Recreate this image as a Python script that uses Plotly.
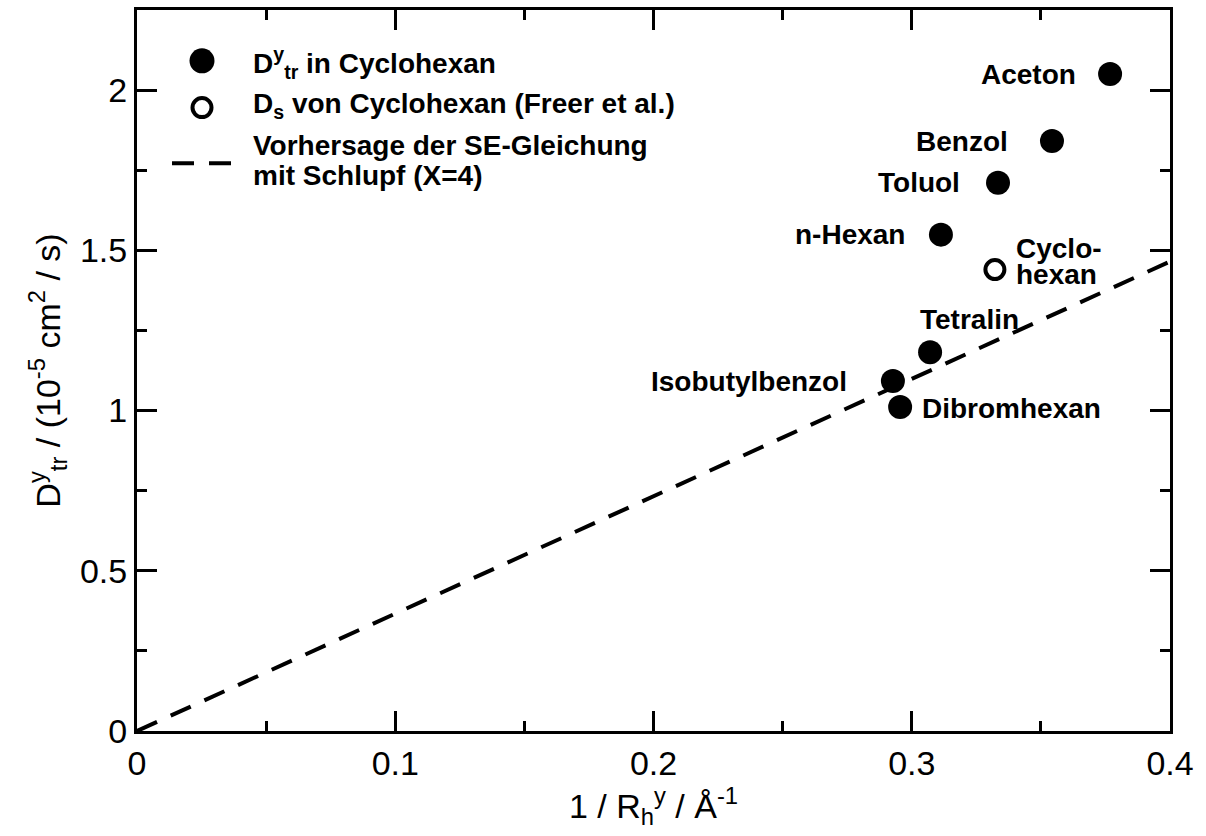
import plotly.graph_objects as go

# Translational diffusion coefficients of probe molecules in cyclohexane
solutes = ["Aceton", "Benzol", "Toluol", "n-Hexan", "Tetralin",
           "Isobutylbenzol", "Dibromhexan"]
inv_rh = [0.3768, 0.3543, 0.3334, 0.3113, 0.3071, 0.2927, 0.2955]
d_tr = [2.05, 1.841, 1.711, 1.549, 1.182, 1.092, 1.011]

# Self-diffusion of cyclohexane (Freer et al.)
self_name_lines = ["Cyclo-", "hexan"]
self_inv_rh = [0.3322]
self_d = [1.440]

# Stokes-Einstein prediction with slip boundary (X=4)
se_x = [0.0, 0.4]
se_y = [0.0, 1.465]

# Label placement (pixel offsets and anchors), in solute order
label_dx = [-32, -42, -36, -34, -12, -44, 20]
label_dy = [0, 0, 0, 0, 33, 0, -1]
label_anchor = ["right", "right", "right", "right", "left", "right", "left"]

FONT = "Liberation Sans, Arial, Helvetica, sans-serif"
W, H = 1206, 836
ML, MR, MT, MB = 137, 36, 7, 105
PW, PH = W - ML - MR, H - MT - MB


def px(xp):
    return (xp - ML) / PW


def py(yp):
    return (H - MB - yp) / PH


fig = go.Figure()

fig.add_trace(go.Scatter(
    x=se_x, y=se_y, mode="lines",
    line=dict(color="black", width=4, dash="22px,15px"),
    hoverinfo="skip", showlegend=False))

fig.add_trace(go.Scatter(
    x=inv_rh, y=d_tr, mode="markers",
    marker=dict(symbol="circle", size=24, color="black"),
    showlegend=False, cliponaxis=False))

fig.add_trace(go.Scatter(
    x=self_inv_rh, y=self_d, mode="markers",
    marker=dict(symbol="circle", size=19, color="white",
                line=dict(color="black", width=4)),
    showlegend=False, cliponaxis=False))

label_font = dict(family=FONT, size=28, color="black")
annotations = []
for name, xv, yv, dx, dy, anc in zip(solutes, inv_rh, d_tr, label_dx,
                                     label_dy, label_anchor):
    annotations.append(dict(
        x=xv, y=yv, xref="x", yref="y", text=f"<b>{name}</b>",
        showarrow=False, xanchor=anc, yanchor="middle",
        xshift=dx, yshift=dy, font=label_font))

# Two-line label of the open symbol, set with tight line spacing
for i, line in enumerate(self_name_lines):
    annotations.append(dict(
        x=self_inv_rh[0], y=self_d[0], xref="x", yref="y",
        text=f"<b>{line}</b>", showarrow=False, xanchor="left",
        yanchor="middle", xshift=19, yshift=21 - 26 * i, font=label_font))

# Legend block
legend_font = dict(family=FONT, size=28, color="black")
legend_rows = [
    (60, "<b>D<sup>y</sup><sub>tr</sub> in Cyclohexan</b>"),
    (103, "<b>D<sub>s</sub> von Cyclohexan (Freer et al.)</b>"),
    (143, "<b>Vorhersage der SE-Gleichung</b>"),
    (173, "<b>mit Schlupf (X=4)</b>"),
]
for ypix, txt in legend_rows:
    annotations.append(dict(
        x=px(251), y=py(ypix), xref="paper", yref="paper", text=txt,
        showarrow=False, xanchor="left", yanchor="middle", align="left",
        font=legend_font))

shapes = [
    dict(type="circle", xref="paper", yref="paper",
         xsizemode="pixel", ysizemode="pixel",
         xanchor=px(202), yanchor=py(58),
         x0=-12.5, x1=12.5, y0=-12.5, y1=12.5,
         fillcolor="black", line=dict(color="black", width=0)),
    dict(type="circle", xref="paper", yref="paper",
         xsizemode="pixel", ysizemode="pixel",
         xanchor=px(202), yanchor=py(105),
         x0=-9.5, x1=9.5, y0=-9.5, y1=9.5,
         fillcolor="white", line=dict(color="black", width=4)),
    dict(type="line", xref="paper", yref="paper",
         x0=px(172), x1=px(232), y0=py(161), y1=py(161),
         line=dict(color="black", width=4, dash="22px,15px")),
]

axis_common = dict(
    showgrid=False, zeroline=False, showline=True, linecolor="black",
    linewidth=3, mirror="allticks", ticks="inside", ticklen=20,
    tickwidth=2.5, tickcolor="black",
    tickfont=dict(family=FONT, size=34, color="black"),
)

fig.update_xaxes(
    range=[0, 0.4], dtick=0.1, tick0=0,
    minor=dict(ticks="inside", ticklen=10, tickwidth=2.5, dtick=0.05,
               tickcolor="black"),
    title=dict(text="1 / R<sub>h</sub><sup>y</sup> / Å<sup>-1</sup>",
               font=dict(family=FONT, size=34, color="black"), standoff=4),
    **axis_common)

fig.update_yaxes(
    range=[0, 2.25], dtick=0.5, tick0=0,
    minor=dict(ticks="inside", ticklen=10, tickwidth=2.5, dtick=0.25,
               tickcolor="black"),
    title=dict(text="D<sup>y</sup><sub>tr</sub> / (10<sup>-5</sup> cm<sup>2</sup> / s)",
               font=dict(family=FONT, size=34, color="black"), standoff=10),
    **axis_common)

fig.update_layout(
    width=W, height=H, autosize=False,
    margin=dict(l=ML, r=MR, t=MT, b=MB, pad=0),
    paper_bgcolor="white", plot_bgcolor="white",
    annotations=annotations, shapes=shapes, showlegend=False,
    font=dict(family=FONT, color="black"),
)

fig.write_html("out.html")
